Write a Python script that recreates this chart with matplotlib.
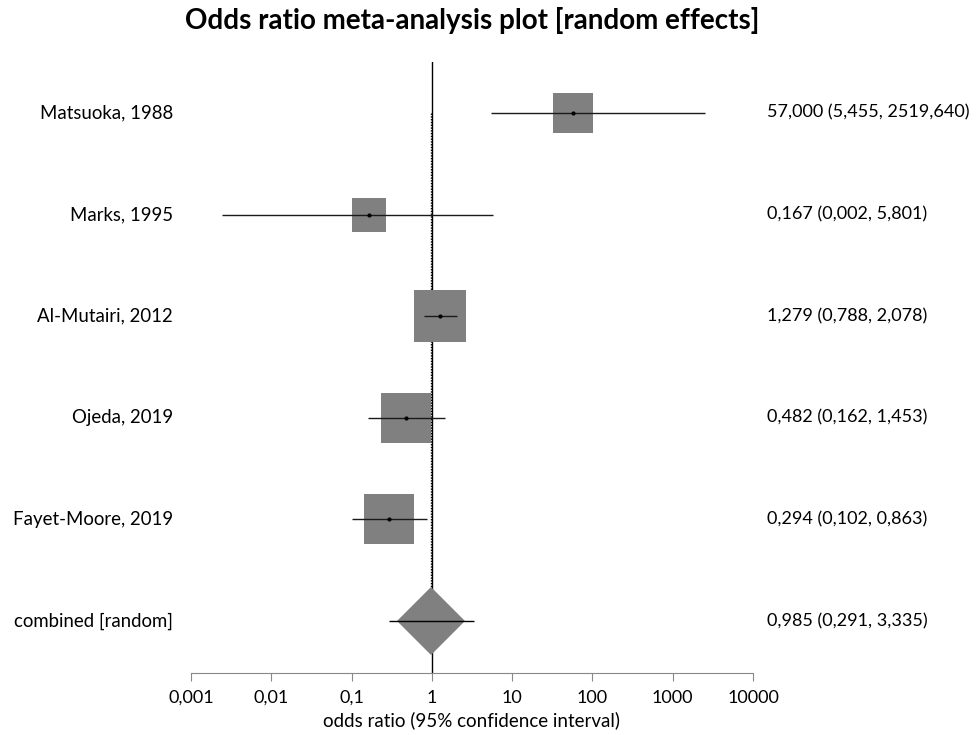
import matplotlib.pyplot as plt
import numpy as np

studies = ['Matsuoka, 1988', 'Marks, 1995', 'Al-Mutairi, 2012', 'Ojeda, 2019', 'Fayet-Moore, 2019']
odds = [57.0, 0.167, 1.279, 0.482, 0.294]
lower = [5.455, 0.0024, 0.788, 0.162, 0.102]
upper = [2519.640, 5.801, 2.078, 1.453, 0.863]
weights = [14.9, 11.4, 26.5, 23.6, 23.6]  # relative study weight (%)

combined_label = 'combined [random]'
combined = 0.985
combined_lo = 0.291
combined_hi = 3.335

tick_values = [0.001, 0.01, 0.1, 1, 10, 100, 1000, 10000]
tick_labels = ['0,001', '0,01', '0,1', '1', '10', '100', '1000', '10000']


def fmt(v):
    return f'{v:.3f}'.replace('.', ',')


plt.rcParams['font.family'] = ['Lato', 'DejaVu Sans']

fig = plt.figure(figsize=(9.77, 7.35), dpi=100)
ax = fig.add_axes([0.1955, 0.0844, 0.5752, 0.8312])
ax.set_xscale('log')
ax.set_xlim(tick_values[0], tick_values[-1])
n = len(studies)
ax.set_ylim(n + 0.51, -0.5)

# reference lines: no effect + combined estimate
ax.axvline(1, color='black', lw=1.0, zorder=1)
ax.vlines(combined, 0, n, color='black', lw=1.0, linestyles=(0, (1, 1)), zorder=1)

rows = np.arange(n)
max_side = 37.5  # points
for y, o, lo, hi, w in zip(rows, odds, lower, upper, weights):
    side = max_side * np.sqrt(w / max(weights))
    ax.plot(o, y, marker='s', ms=side, mew=0, color='#808080', zorder=2)
    ax.hlines(y, lo, hi, color='#1a1a1a', lw=1.0, zorder=3)
    ax.plot(o, y, marker='o', ms=3, mew=0, color='black', zorder=4)

# combined estimate
ax.plot(combined, n, marker='D', ms=34.5, mew=0, color='#808080', zorder=2)
ax.hlines(n, combined_lo, combined_hi, color='black', lw=1.0, zorder=3)

labels = studies + [combined_label]
ors = odds + [combined]
los = lower + [combined_lo]
his = upper + [combined_hi]
for y, lab, o, lo, hi in zip(range(n + 1), labels, ors, los, his):
    ax.text(-0.032, y, lab, transform=ax.get_yaxis_transform(), ha='right', va='center', fontsize=13.4)
    ax.text(1.025, y, f'{fmt(o)} ({fmt(lo)}, {fmt(hi)})', transform=ax.get_yaxis_transform(),
            ha='left', va='center', fontsize=13)

for side in ['top', 'left', 'right']:
    ax.spines[side].set_visible(False)
ax.spines['bottom'].set_color('#888888')
ax.set_yticks([])
ax.set_xticks(tick_values)
ax.set_xticklabels(tick_labels)
ax.minorticks_off()
ax.tick_params(axis='x', direction='out', length=6, color='#888888', labelsize=13, pad=6)
ax.set_xlabel('odds ratio (95% confidence interval)', fontsize=13.5, labelpad=4)

fig.text(0.483, 0.972, 'Odds ratio meta-analysis plot [random effects]', ha='center', va='center',
         fontsize=20, fontweight='bold')

plt.savefig('out.png', dpi=100)
